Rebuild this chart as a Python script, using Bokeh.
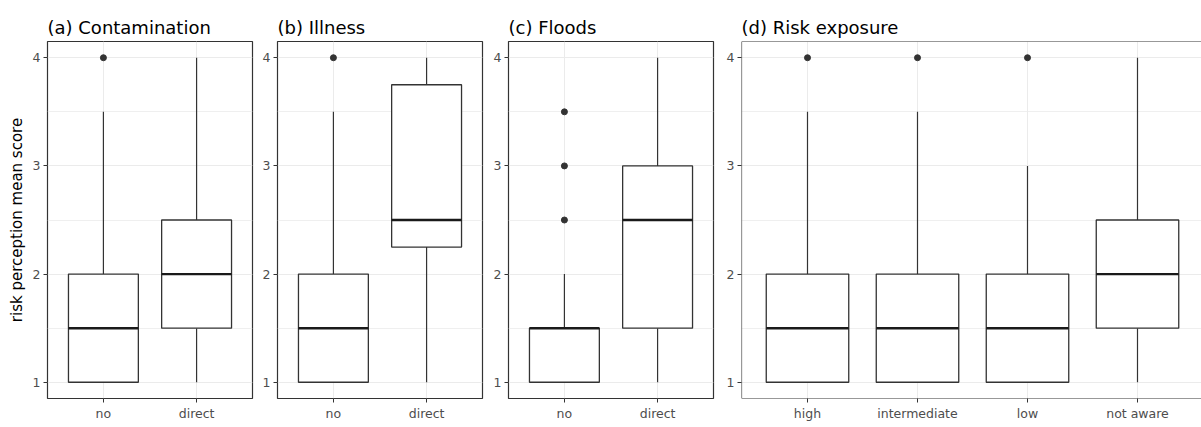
from bokeh.plotting import figure
from bokeh.layouts import row
from bokeh.models import FixedTicker, Range1d, Span, ColumnDataSource
from bokeh.embed import file_html
from bokeh.resources import INLINE

# ---------------- data ----------------
titles = ["(a) Contamination", "(b) Illness", "(c) Floods", "(d) Risk exposure"]

a_groups = ["no", "direct"]
a_low = [1.0, 1.0]
a_q1 = [1.0, 1.5]
a_med = [1.5, 2.0]
a_q3 = [2.0, 2.5]
a_high = [3.5, 4.0]
a_out_group = ["no"]
a_out_val = [4.0]

b_groups = ["no", "direct"]
b_low = [1.0, 1.0]
b_q1 = [1.0, 2.25]
b_med = [1.5, 2.5]
b_q3 = [2.0, 3.75]
b_high = [3.5, 4.0]
b_out_group = ["no"]
b_out_val = [4.0]

c_groups = ["no", "direct"]
c_low = [1.0, 1.0]
c_q1 = [1.0, 1.5]
c_med = [1.5, 2.5]
c_q3 = [1.5, 3.0]
c_high = [2.0, 4.0]
c_out_group = ["no", "no", "no"]
c_out_val = [2.5, 3.0, 3.5]

d_groups = ["high", "intermediate", "low", "not aware"]
d_low = [1.0, 1.0, 1.0, 1.0]
d_q1 = [1.0, 1.0, 1.0, 1.5]
d_med = [1.5, 1.5, 1.5, 2.0]
d_q3 = [2.0, 2.0, 2.0, 2.5]
d_high = [3.5, 3.5, 3.0, 4.0]
d_out_group = ["high", "intermediate", "low"]
d_out_val = [4.0, 4.0, 4.0]

y_ticks = [1, 2, 3, 4]
y_minor = [1.5, 2.5, 3.5]
y_label = "risk perception mean score"

# ---------------- styling ----------------
FONT = "DejaVu Sans"
LINE = "#333333"
GRID = "#ebebeb"
Y0, Y1 = 0.85, 4.15
BOX_W = 0.75
FRAME_H = 357
TOP, BOTTOM = 41, 29


def panel(title, groups, low, q1, med, q3, high, out_g, out_v,
          frame_w, left, right, x_end=None, ylab=None, outline=True):
    n = len(groups)
    xs = list(range(1, n + 1))
    pos = dict(zip(groups, xs))
    xe = x_end if x_end is not None else n + 0.6
    p = figure(width=left + frame_w + right, height=TOP + FRAME_H + BOTTOM,
               x_range=Range1d(0.4, xe), y_range=Range1d(Y0, Y1),
               output_backend="svg", toolbar_location=None,
               min_border_left=left, min_border_right=right,
               min_border_top=TOP, min_border_bottom=BOTTOM,
               background_fill_color="white", border_fill_color="white")
    p.title.text = title
    p.title.text_font = FONT
    p.title.text_font_size = "18px"
    p.title.text_font_style = "normal"
    p.title.text_color = "black"
    p.title.offset = 0
    p.title.standoff = 8

    if outline:
        p.outline_line_color = LINE
        p.outline_line_width = 1.2
    else:
        p.outline_line_color = None
        p.add_layout(Span(location=0.4, dimension="height",
                          line_color=LINE, line_width=1.2))
        p.add_layout(Span(location=Y1, dimension="width",
                          line_color=LINE, line_width=1.2))
        p.add_layout(Span(location=Y0, dimension="width",
                          line_color=LINE, line_width=1.2))

    p.xaxis.ticker = FixedTicker(ticks=xs)
    p.xaxis.major_label_overrides = {x: g for x, g in zip(xs, groups)}
    p.yaxis.ticker = FixedTicker(ticks=y_ticks, minor_ticks=y_minor)
    for ax in (p.xaxis, p.yaxis):
        ax.axis_line_color = None
        ax.major_tick_line_color = LINE
        ax.major_tick_in = 0
        ax.major_tick_out = 4
        ax.minor_tick_line_color = None
        ax.major_label_text_font = FONT
        ax.major_label_text_font_size = "12.5px"
        ax.major_label_text_color = "#4d4d4d"
        ax.major_label_standoff = 3
    if ylab:
        p.yaxis.axis_label = ylab
        p.yaxis.axis_label_text_font = FONT
        p.yaxis.axis_label_text_font_size = "15px"
        p.yaxis.axis_label_text_font_style = "normal"
        p.yaxis.axis_label_text_color = "black"
        p.yaxis.axis_label_standoff = 4

    p.xgrid.grid_line_color = GRID
    p.xgrid.grid_line_width = 1
    p.ygrid.grid_line_color = GRID
    p.ygrid.grid_line_width = 1.2
    p.ygrid.minor_grid_line_color = GRID
    p.ygrid.minor_grid_line_width = 0.8

    src = ColumnDataSource(dict(x=xs, low=low, q1=q1, med=med, q3=q3, high=high))
    p.segment(x0="x", y0="q3", x1="x", y1="high", source=src,
              line_color=LINE, line_width=1.2)
    p.segment(x0="x", y0="low", x1="x", y1="q1", source=src,
              line_color=LINE, line_width=1.2)
    p.vbar(x="x", width=BOX_W, bottom="q1", top="q3", source=src,
           fill_color="white", line_color=LINE, line_width=1.3)
    xs_l = [x - BOX_W / 2 for x in xs]
    xs_r = [x + BOX_W / 2 for x in xs]
    p.segment(x0=xs_l, y0=med, x1=xs_r, y1=med,
              line_color="#1a1a1a", line_width=2.4)
    p.scatter(x=[pos[g] for g in out_g], y=out_v, size=6,
              fill_color=LINE, line_color=LINE)
    return p


pa = panel(titles[0], a_groups, a_low, a_q1, a_med, a_q3, a_high,
           a_out_group, a_out_val, 205, 47, 2, ylab=y_label)
pb = panel(titles[1], b_groups, b_low, b_q1, b_med, b_q3, b_high,
           b_out_group, b_out_val, 205, 23, 2)
pc = panel(titles[2], c_groups, c_low, c_q1, c_med, c_q3, c_high,
           c_out_group, c_out_val, 205, 24, 2)
pd = panel(titles[3], d_groups, d_low, d_q1, d_med, d_q3, d_high,
           d_out_group, d_out_val, 460, 26, 0, x_end=0.4 + 460 / 110.0,
           outline=False)

layout = row(pa, pb, pc, pd, spacing=0)
open("out.html", "w").write(file_html(layout, INLINE))
